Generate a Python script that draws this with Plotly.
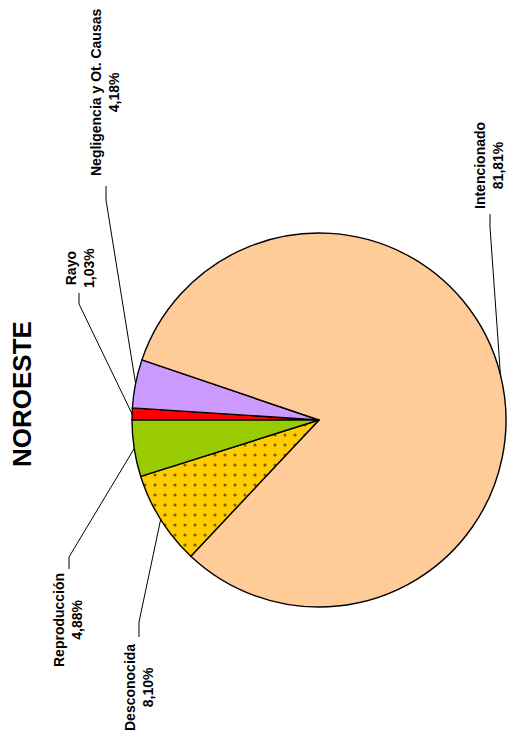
import math
import plotly.graph_objects as go

# Causes of fires in the NOROESTE region (share of total, %)
causes = ["Rayo", "Negligencia y Ot. Causas", "Intencionado", "Desconocida", "Reproducción"]
shares = [1.03, 4.18, 81.81, 8.10, 4.88]
share_labels = ["1,03%", "4,18%", "81,81%", "8,10%", "4,88%"]
colors = ["#FF0000", "#CC99FF", "#FFCC99", "#FFCC00", "#99CC00"]
patterns = ["", "", "", ".", ""]

W, H = 507, 744
CX, CY, R = 319, 420, 187          # pie centre and radius in pixels
ROTATION = 270                     # first slice starts at 9 o'clock

# Label block centres (pixels) and the elbow/attach points of the leader lines
label_pos = {
    "Rayo": (80, 268),
    "Negligencia y Ot. Causas": (105, 93),
    "Intencionado": (489, 166),
    "Desconocida": (139, 688),
    "Reproducción": (68, 620),
}
leader_pts = {
    "Rayo": [(79, 293), (79, 304)],
    "Negligencia y Ot. Causas": [(106, 186), (106, 200)],
    "Intencionado": [(490, 214), (490, 227)],
    "Desconocida": [(139, 637), (139, 622)],
    "Reproducción": [(69, 569), (69, 557)],
}


def px(x):
    return x / W


def py(y):
    return 1 - y / H


fig = go.Figure(
    go.Pie(
        labels=causes,
        values=shares,
        sort=False,
        direction="clockwise",
        rotation=ROTATION,
        textinfo="none",
        hoverinfo="label+percent",
        marker=dict(
            colors=colors,
            line=dict(color="#000000", width=1.4),
            pattern=dict(shape=patterns, size=10, solidity=0.08,
                         fgcolor="#4a3d00", fgopacity=0.75, fillmode="overlay"),
        ),
        domain=dict(x=[px(CX - R), px(CX + R)], y=[py(CY + R), py(CY - R)]),
        showlegend=False,
    )
)

shapes = []
annotations = []
total = sum(shares)
cum = 0.0
for name, val, lab in zip(causes, shares, share_labels):
    mid = ROTATION + (cum + val / 2) / total * 360
    cum += val
    a = math.radians(mid)
    ex, ey = CX + R * math.sin(a), CY - R * math.cos(a)
    (tx, ty), (kx, ky) = leader_pts[name]
    path = f"M {px(ex)} {py(ey)} L {px(kx)} {py(ky)} L {px(tx)} {py(ty)}"
    shapes.append(dict(type="path", xref="paper", yref="paper", path=path,
                       line=dict(color="#000000", width=1)))
    lx, ly = label_pos[name]
    annotations.append(dict(
        x=px(lx), y=py(ly), xref="paper", yref="paper",
        text=f"<b>{name}<br>{lab}</b>", showarrow=False, textangle=-90,
        xanchor="center", yanchor="middle", align="center",
        font=dict(family="Liberation Sans, Arial, sans-serif", size=14, color="#000000"),
    ))

annotations.append(dict(
    x=px(22), y=py(394), xref="paper", yref="paper",
    text="<b>NOROESTE</b>", showarrow=False, textangle=-90,
    xanchor="center", yanchor="middle",
    font=dict(family="Liberation Sans, Arial, sans-serif", size=26, color="#000000"),
))

fig.update_layout(
    width=W, height=H,
    margin=dict(l=0, r=0, t=0, b=0),
    paper_bgcolor="#FFFFFF",
    plot_bgcolor="#FFFFFF",
    shapes=shapes,
    annotations=annotations,
)

fig.write_html("out.html")
